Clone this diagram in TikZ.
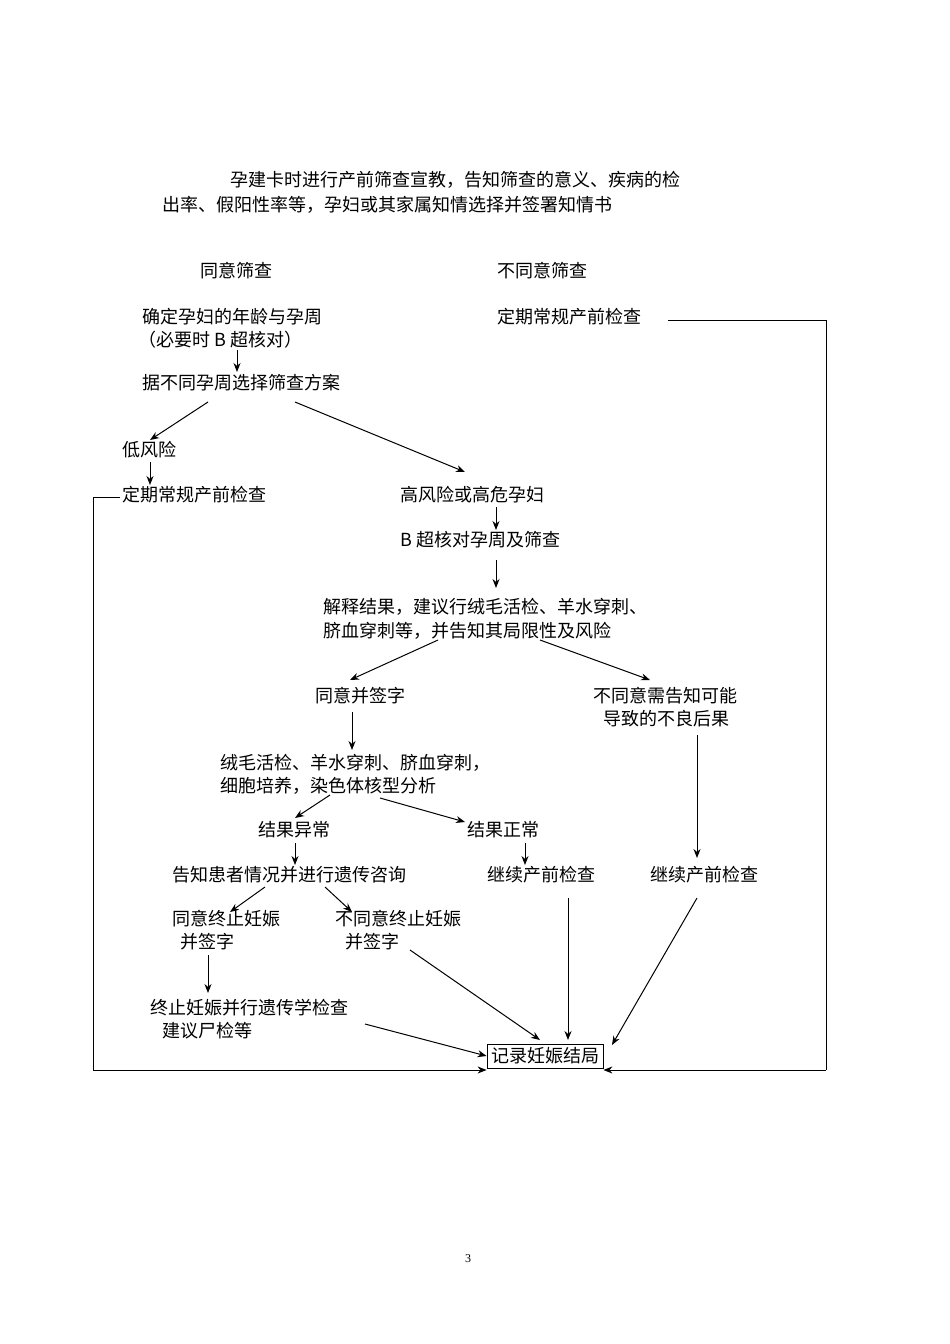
\documentclass[tikz,border=0pt]{standalone}
\usepackage{fontspec}
\setmainfont{Liberation Serif}
\newfontfamily\cjk{Noto Sans CJK SC}
\usetikzlibrary{arrows.meta}
\begin{document}
\begin{tikzpicture}[x=1pt,y=-1pt,
  t/.style={anchor=west,inner sep=0pt,font=\cjk\fontsize{18}{20}\selectfont},
  ar/.style={-{Stealth[length=9pt,width=7pt]},line width=1pt},
  ln/.style={line width=0.8pt}]
\useasboundingbox (0,0) rectangle (950,1344);
\node[t] (h1) at (230,180) {孕建卡时进行产前筛查宣教，告知筛查的意义、疾病的检};
\node[t] (h2) at (162,205) {出率、假阳性率等，孕妇或其家属知情选择并签署知情书};
\node[t] (a1) at (200,271) {同意筛查};
\node[t] (b1) at (497,271) {不同意筛查};
\node[t] (a2) at (142,317) {确定孕妇的年龄与孕周};
\node[t] (a2b) at (138,340) {（必要时 B 超核对）};
\node[t] (b2) at (497,317) {定期常规产前检查};
\node[t] (a3) at (142,383) {据不同孕周选择筛查方案};
\node[t] (lo) at (122,450) {低风险};
\node[t] (lo2) at (122,495) {定期常规产前检查};
\node[t] (hi) at (400,495) {高风险或高危孕妇};
\node[t] (bu) at (400,540) {B 超核对孕周及筛查};
\node[t] (ex1) at (323,607) {解释结果，建议行绒毛活检、羊水穿刺、};
\node[t] (ex2) at (323,631) {脐血穿刺等，并告知其局限性及风险};
\node[t] (ag) at (315,696) {同意并签字};
\node[t] (dis1) at (593,696) {不同意需告知可能};
\node[t] (dis2) at (603,719) {导致的不良后果};
\node[t] (c1) at (220,763) {绒毛活检、羊水穿刺、脐血穿刺，};
\node[t] (c2) at (220,786) {细胞培养，染色体核型分析};
\node[t] (ab) at (258,830) {结果异常};
\node[t] (no) at (467,830) {结果正常};
\node[t] (gc) at (172,875) {告知患者情况并进行遗传咨询};
\node[t] (k1) at (487,875) {继续产前检查};
\node[t] (k2) at (650,875) {继续产前检查};
\node[t] (y1) at (172,919) {同意终止妊娠};
\node[t] (y2) at (180,942) {并签字};
\node[t] (n1) at (335,919) {不同意终止妊娠};
\node[t] (n2) at (345,942) {并签字};
\node[t] (e1) at (150,1008) {终止妊娠并行遗传学检查};
\node[t] (e2) at (162,1031) {建议尸检等};
\node[draw,line width=0.8pt,inner sep=1.5pt,font=\cjk\fontsize{18}{20}\selectfont,minimum width=116pt,minimum height=24pt] (rec) at (545,1056) {记录妊娠结局};
\node[font=\fontsize{12}{14}\selectfont] (pg) at (468,1259) {3};

\coordinate (r1) at (668,320); \coordinate (r2) at (826,320); \coordinate (r3) at (826,1070);
\coordinate (l1) at (120,497); \coordinate (l2) at (93,497); \coordinate (l3) at (93,1070);
\draw[ln] (r1) -- (r2) -- (r3);
\draw[ar] (r3) -- (rec.east |- r3);
\draw[ln] (l1) -- (l2) -- (l3);
\draw[ar] (l3) -- (rec.west |- l3);

\draw[ar] (237,350) -- (237,372);
\draw[ar] (208,402) -- (150,440);
\draw[ar] (295,402) -- (465,472);
\draw[ar] (150,462) -- (150,485);
\draw[ar] (496,507) -- (496,530);
\draw[ar] (496,560) -- (496,588);
\draw[ar] (438,640) -- (350,680);
\draw[ar] (540,640) -- (650,680);
\draw[ar] (352,712) -- (352,750);
\draw[ar] (697,735) -- (697,858);
\draw[ar] (330,795) -- (295,818);
\draw[ar] (380,798) -- (465,822);
\draw[ar] (295,843) -- (295,865);
\draw[ar] (525,843) -- (525,865);
\draw[ar] (265,887) -- (230,912);
\draw[ar] (325,887) -- (352,912);
\draw[ar] (208,955) -- (208,993);
\draw[ar] (365,1024) -- (rec.west);
\draw[ar] (410,950) -- (540,1040);
\draw[ar] (568,898) -- (568,1040);
\draw[ar] (697,898) -- (612,1045);
\end{tikzpicture}
\end{document}
